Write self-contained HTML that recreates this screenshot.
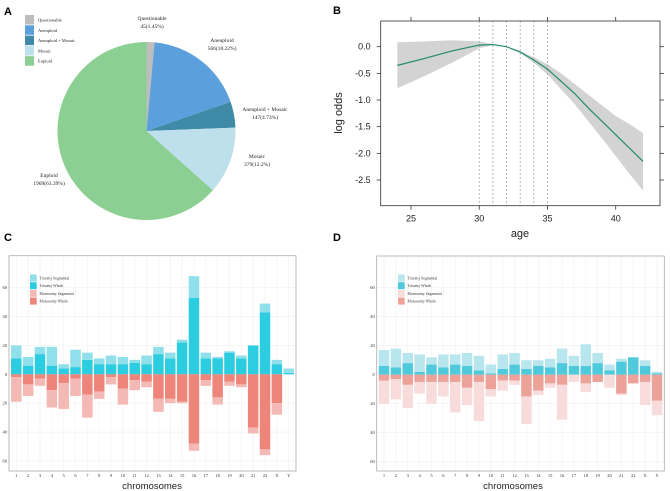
<!DOCTYPE html>
<html><head><meta charset="utf-8"><style>
body{margin:0;background:#fff;width:670px;height:491px;overflow:hidden}
svg{display:block}
</style></head><body>
<svg id="s" width="670" height="491" xmlns="http://www.w3.org/2000/svg" font-family="Liberation Sans, sans-serif">
<text x="4" y="15" font-size="11" font-weight="bold">A</text>
<text x="333" y="14" font-size="11" font-weight="bold">B</text>
<text x="4" y="241" font-size="11" font-weight="bold">C</text>
<text x="333" y="241" font-size="11" font-weight="bold">D</text>
<g id="pie"></g>
<g id="lineB"></g>
<g id="barC"></g>
<g id="barD"></g>
</svg>
<script>
const NS="http://www.w3.org/2000/svg";
function mk(p,tag,at,txt){const e=document.createElementNS(NS,tag);for(const k in at)e.setAttribute(k,at[k]);if(txt!==undefined)e.textContent=txt;p.appendChild(e);return e;}

// ---- Pie data ----
const pieCats=["Questionable","Aneuploid","Aneuploid + Mosaic","Mosaic","Euploid"];
const pieCounts=[45,566,147,379,1969];
const piePct=["1.45%","18.22%","4.73%","12.2%","63.39%"];
const pieColors=["#bdbdbd","#5b9fdc","#3f8aa6","#bde0ec","#8ccf93"];
// ---- B data ----
const ages=[24,26,28,30,31,32,33,34,35,36,37,38,39,40,41,42];
const fitVals=[-0.35,-0.22,-0.08,0.03,0.04,0.0,-0.1,-0.25,-0.42,-0.65,-0.88,-1.15,-1.4,-1.65,-1.9,-2.15];
const upperVals=[0.08,0.1,0.12,0.1,0.05,0.0,-0.08,-0.2,-0.33,-0.5,-0.7,-0.9,-1.1,-1.3,-1.45,-1.62];
const lowerVals=[-0.78,-0.55,-0.3,-0.03,0.03,-0.01,-0.12,-0.3,-0.52,-0.8,-1.08,-1.4,-1.72,-2.05,-2.38,-2.7];
const knots=[30,31,32,33,34,35];
const bXTicks=[25,30,35,40];
const bYTicks=[0,-0.5,-1,-1.5,-2,-2.5];
// ---- C/D data ----
const chroms=["1","2","3","4","5","6","7","8","9","10","11","12","13","14","15","16","17","18","19","20","21","22","X","Y"];
const cTriWhole=[11,6,14,6,4,5,10,7,7,7,8,7,14,11,22,53,11,11,15,11,20,43,7,1];
const cTriSeg=[9,6,5,13,3,12,5,4,6,5,2,6,5,4,2,15,4,1,1,2,0,6,3,3];
const cMonoWhole=[2,7,3,11,6,3,14,12,2,10,4,5,17,17,19,48,4,16,5,7,37,52,20,0];
const cMonoSeg=[17,8,5,12,18,12,16,5,5,11,7,4,9,3,1,5,4,5,3,2,4,4,8,0];
const dTriWhole=[6,5,8,2,7,5,7,6,3,1,4,7,4,6,5,8,6,6,8,3,9,12,6,1];
const dTriSeg=[11,13,7,12,5,9,7,9,10,6,10,8,6,4,6,10,7,15,7,4,2,0,4,1];
const dMonoWhole=[4,3,7,5,5,5,5,9,5,10,4,4,15,11,6,7,0,6,5,0,13,6,5,18];
const dMonoSeg=[16,14,16,8,15,10,21,12,27,5,7,3,19,3,3,24,5,6,0,9,1,0,16,10];
const yTicks=[60,40,20,0,-20,-40,-60];
const legendLabels=["Trisomy Segmental","Trisomy Whole","Monosomy Segmental","Monosomy Whole"];

// ---- Pie ----
(function(){
  const g=document.getElementById('pie');const cx=146.5,cy=131,r=89;
  const tot=pieCounts.reduce((a,b)=>a+b,0);let a0=0;
  const lab=[[152,20],[222,42],[265,111],[257,158],[49,177]];
  pieCounts.forEach((v,i)=>{
    const a1=a0+v/tot*2*Math.PI;
    const x0=cx+r*Math.sin(a0),y0=cy-r*Math.cos(a0),x1=cx+r*Math.sin(a1),y1=cy-r*Math.cos(a1);
    const p=mk(g,'path',{d:`M${cx},${cy}L${x0},${y0}A${r},${r} 0 ${a1-a0>Math.PI?1:0} 1 ${x1},${y1}Z`,fill:pieColors[i]});
    
    
    const t=mk(g,'text',{x:lab[i][0],y:lab[i][1],'font-size':'5.5','font-family':'Liberation Serif, serif','text-anchor':'middle',fill:'#222'});
    
    
    mk(t,'tspan',{x:lab[i][0]},pieCats[i]);
    mk(t,'tspan',{x:lab[i][0],dy:'8'},pieCounts[i]+'('+piePct[i]+')');
    const ly=15+i*10.3;
    const sq=mk(g,'rect',{x:25,y:ly,width:9,height:9.5,fill:pieColors[i]});
    
    
    const lt=mk(g,'text',{x:38,y:ly+6.5,'font-size':'4.5','font-family':'Liberation Serif, serif',fill:'#222'},pieCats[i]);
    
    
    a0=a1;
  });
})();

// ---- B ----
(function(){
  const g=document.getElementById('lineB');
  const L=380.7,R=660,T=21,Bt=205.7;
  const X=a=>411+(a-25)*(615.7-411)/15;
  const Y=v=>46.7+(-v)*(180-46.7)/2.5;
  let d='';ages.forEach((a,i)=>d+=(i?'L':'M')+X(a)+','+Y(upperVals[i]));
  for(let i=ages.length-1;i>=0;i--)d+='L'+X(ages[i])+','+Y(lowerVals[i]);
  const band=mk(g,'path',{d:d+'Z',fill:'#d3d3d3'});
  
  
  knots.forEach(k=>{const l=mk(g,'line',{x1:X(k),x2:X(k),y1:T,y2:Bt,stroke:'#999','stroke-width':0.7,'stroke-dasharray':'2,2'});
    
    });
  let dl='';ages.forEach((a,i)=>dl+=(i?'L':'M')+X(a)+','+Y(fitVals[i]));
  const ln=mk(g,'path',{d:dl,fill:'none',stroke:'#218a6e','stroke-width':1.2});
  
  
  const bx=mk(g,'rect',{x:L,y:T,width:R-L,height:Bt-T,fill:'none',stroke:'#333','stroke-width':0.8});
  
  
  bXTicks.forEach(t=>{const x=X(t);
    mk(g,'line',{x1:x,x2:x,y1:Bt,y2:Bt+4,stroke:'#333','stroke-width':0.8});
    mk(g,'line',{x1:x,x2:x,y1:T,y2:T-4,stroke:'#333','stroke-width':0.8});
    const tt=mk(g,'text',{x:x,y:Bt+16,'font-size':'9','text-anchor':'middle',fill:'#222'},t);
    
    });
  bYTicks.forEach(t=>{const y=Y(t);
    mk(g,'line',{x1:L,x2:L-4,y1:y,y2:y,stroke:'#333','stroke-width':0.8});
    mk(g,'line',{x1:R,x2:R+4,y1:y,y2:y,stroke:'#333','stroke-width':0.8});
    const tt=mk(g,'text',{x:L-10,y:y+3,'font-size':'9','text-anchor':'end',fill:'#222'},t.toFixed(1));
    
    });
  const xt=mk(g,'text',{x:520,y:237,'font-size':'11','text-anchor':'middle',fill:'#222'},'age');
  
  
  const yt=mk(g,'text',{x:0,y:0,'font-size':'11','text-anchor':'middle',fill:'#222',transform:'translate(342,113) rotate(-90)'},'log odds');
  
  
})();

// ---- C/D ----
function bars(id,L,R,T,Bt,zero,firstX,tw,ts,mw,ms,cols,legX,titleX){
  const g=document.getElementById(id);
  const sc=(zero-287.7)/60;
  const Y=v=>zero-v*sc;const step=(R-L-(firstX-L)*2)/23;
  const X=i=>firstX+i*step;const bw=10.5;
  mk(g,'rect',{x:L,y:T,width:R-L,height:Bt-T,fill:'#fff'});
  yTicks.forEach(t=>mk(g,'line',{x1:L,x2:R,y1:Y(t),y2:Y(t),stroke:'#f0f0f0','stroke-width':0.6}));
  chroms.forEach((c,i)=>mk(g,'line',{x1:X(i),x2:X(i),y1:T,y2:Bt,stroke:'#f0f0f0','stroke-width':0.6}));
  chroms.forEach((c,i)=>{
    const x=X(i)-bw/2;
    const parts=[[0,tw[i],cols[1],'trisomy-whole'],[tw[i],tw[i]+ts[i],cols[0],'trisomy-segmental'],
                 [0,-mw[i],cols[3],'monosomy-whole'],[-mw[i],-mw[i]-ms[i],cols[2],'monosomy-segmental']];
    parts.forEach(p=>{const y1=Y(Math.max(p[0],p[1])),y2=Y(Math.min(p[0],p[1]));
      const r=mk(g,'rect',{x:x,y:y1,width:bw,height:Math.max(0,y2-y1),fill:p[2]});
      
      });
    const t=mk(g,'text',{x:X(i),y:477,'font-size':'4.5','font-family':'Liberation Serif, serif','text-anchor':'middle',fill:'#333'},c);
    
    
  });
  yTicks.forEach(t=>{const tt=mk(g,'text',{x:L-2,y:Y(t)+1.5,'font-size':'4.5','font-family':'Liberation Serif, serif','text-anchor':'end',fill:'#333'},Math.abs(t));
    
    });
  const fr=mk(g,'rect',{x:L,y:T,width:R-L,height:Bt-T,fill:'none',stroke:'#aaa','stroke-width':0.8});
  
  
  legendLabels.forEach((lb,i)=>{const y=274.5+i*7.7;
    const s=mk(g,'rect',{x:legX,y:y,width:6.7,height:7,fill:cols[i]});
    
    
    const t=mk(g,'text',{x:legX+9.5,y:y+5,'font-size':'3.8','font-family':'Liberation Serif, serif',fill:'#333'},lb);
    
    });
  const xt=mk(g,'text',{x:titleX,y:489,'font-size':'9.5','text-anchor':'middle',fill:'#222'},'chromosomes');
  
  
}
bars('barC',9,296,255.7,471,374.3,16.3,cTriWhole,cTriSeg,cMonoWhole,cMonoSeg,["#8fe0ea","#2ccde0","#f4b9b4","#ee857b"],30,152);
bars('barD',376.7,664.3,256,471,374.7,384,dTriWhole,dTriSeg,dMonoWhole,dMonoSeg,["#b8e6ee","#4fc9dc","#f8dcdb","#eca199"],398,513);
</script>
</body></html>
